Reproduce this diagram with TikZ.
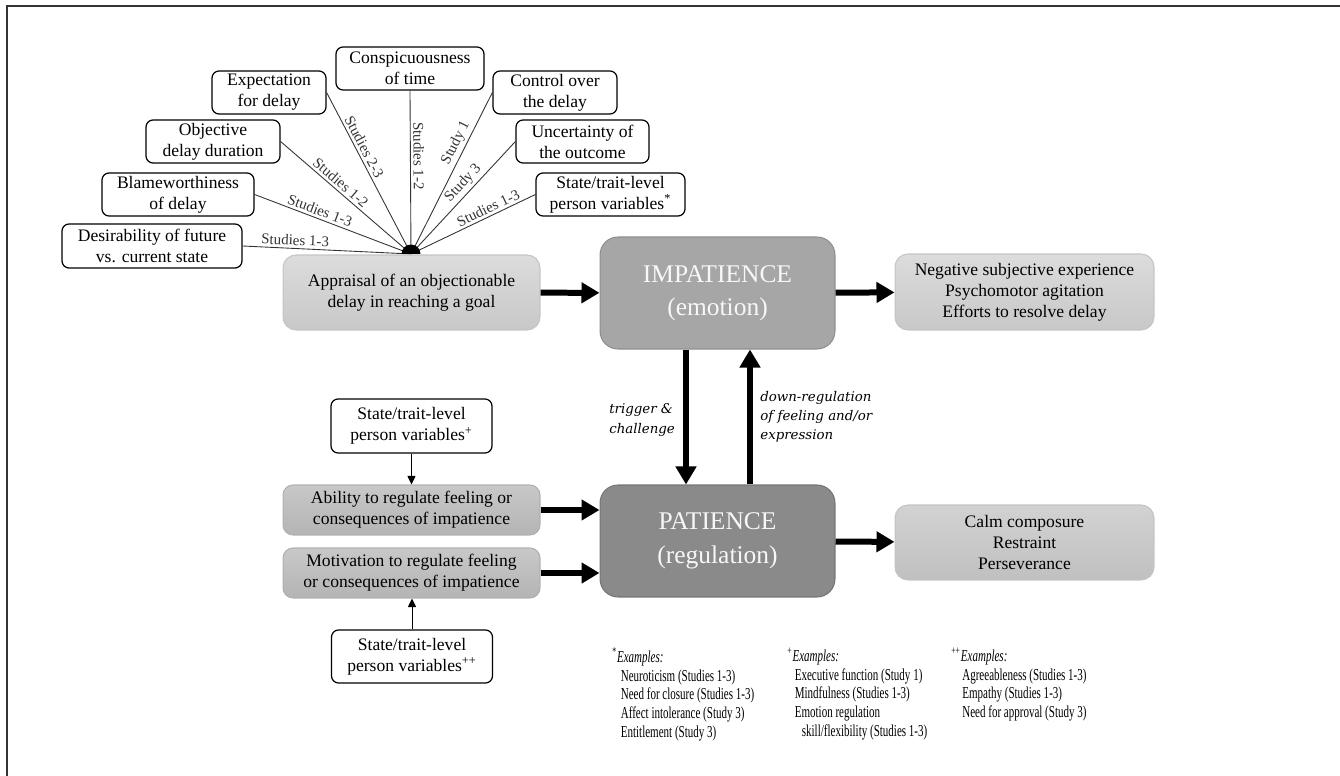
\documentclass[tikz,border=0pt]{standalone}
\usepackage{fontspec}
\setmainfont{Liberation Serif}
\newfontfamily\labelfont{DejaVu Serif}
\newfontfamily\notefont[FakeStretch=0.66]{Liberation Serif}
\usetikzlibrary{arrows.meta}
\definecolor{lighttop}{RGB}{220,220,220}
\definecolor{lightbot}{RGB}{200,200,200}
\definecolor{lightline}{RGB}{196,196,196}
\definecolor{calmtop}{RGB}{210,210,210}
\definecolor{calmbot}{RGB}{192,192,192}
\definecolor{midtop}{RGB}{200,200,200}
\definecolor{midbot}{RGB}{180,180,180}
\definecolor{midline}{RGB}{176,176,176}
\definecolor{impfill}{RGB}{166,166,166}
\definecolor{impline}{RGB}{142,142,142}
\definecolor{patfill}{RGB}{138,138,138}
\definecolor{patline}{RGB}{118,118,118}

\begin{document}
\begin{tikzpicture}[x=0.02cm,y=-0.02cm]
    \tikzstyle{factorbox}=[draw,line width=0.7pt,rounded corners=0.14cm,fill=white,align=center,inner sep=1pt,font=\fontsize{10}{12}\selectfont]
    \tikzstyle{lightbox}=[draw=lightline,line width=0.6pt,rounded corners=0.26cm,top color=lighttop,bottom color=lightbot,align=center,font=\fontsize{10}{12}\selectfont]
    \tikzstyle{midbox}=[lightbox,draw=midline,top color=midtop,bottom color=midbot,minimum width=5.14cm,minimum height=1cm,rounded corners=0.2cm]
    \tikzstyle{corebox}=[draw,line width=0.6pt,rounded corners=0.36cm,minimum width=4.7cm,minimum height=2.24cm,align=center,text=gray!6,font=\fontsize{14.5}{19}\selectfont]
    \tikzstyle{bigarrow}=[line width=0.12cm,-{Triangle[length=0.36cm,width=0.4cm]}]
    \tikzstyle{thinarrow}=[line width=0.5pt,-{Triangle[length=0.17cm,width=0.16cm]}]
    \tikzstyle{spoke}=[line width=0.5pt,black!80]
    \tikzstyle{study}=[sloped,above,inner sep=1.5pt,font=\fontsize{8.5}{10}\selectfont]
    \tikzstyle{cue}=[align=left,anchor=west,inner sep=0pt,font=\labelfont\itshape\fontsize{7.6}{10.9}\selectfont]
    \tikzstyle{notes}=[align=left,anchor=north west,inner sep=0pt,font=\notefont\fontsize{9.5}{10.6}\selectfont]
    \useasboundingbox (0,0) rectangle (1340,776);
    \draw[line width=0.04cm,black!80] (7,776) -- (7,6) -- (1340,6);
    \node[factorbox,minimum width=2.96cm,minimum height=0.86cm] (conspic) at (410,68.5) {Conspicuousness\\of time};
    \node[factorbox,minimum width=2.28cm,minimum height=0.86cm] (expect) at (269,92.5) {Expectation\\for delay};
    \node[factorbox,minimum width=2.68cm,minimum height=0.86cm] (objdur) at (213,141.5) {Objective\\delay duration};
    \node[factorbox,minimum width=3.04cm,minimum height=0.86cm] (blame) at (178,194.5) {Blameworthiness\\of delay};
    \node[factorbox,minimum width=3.6cm,minimum height=0.88cm] (desir) at (152,246) {Desirability of future\\vs. current state};
    \node[factorbox,minimum width=2.48cm,minimum height=0.86cm] (control) at (555,92.5) {Control over\\the delay};
    \node[factorbox,minimum width=2.66cm,minimum height=0.86cm] (uncert) at (582.5,141.5) {Uncertainty of\\the outcome};
    \node[factorbox,minimum width=2.98cm,minimum height=0.86cm] (stateA) at (610.5,194.5) {State/trait-level\\person variables\textsuperscript{*}};
    \coordinate (hub) at (411,254);
    \draw[spoke] (desir.east) -- node[study,pos=0.31] {Studies 1-3} (hub);
    \draw[spoke] (blame.east) -- node[study,pos=0.4] {Studies 1-3} (hub);
    \draw[spoke] (objdur.east) -- node[study,pos=0.42] {Studies 1-2} (hub);
    \draw[spoke] (expect.east) -- node[study,pos=0.36] {Studies 2-3} (hub);
    \draw[spoke] (conspic.south) -- node[study,pos=0.4] {Studies 1-2} (hub);
    \draw[spoke] (hub) -- node[study,pos=0.66] {Study 1} (control.west);
    \draw[spoke] (hub) -- node[study,pos=0.57] {Study 3} (uncert.west);
    \draw[spoke] (hub) -- node[study,pos=0.65] {Studies 1-3} (stateA.west);
    \fill (hub) ++(-0.19cm,0) arc[start angle=180,end angle=0,radius=0.19cm] -- cycle;
    \node[lightbox,minimum width=5.14cm,minimum height=1.5cm] (appr) at (411.5,292.5) {Appraisal of an objectionable\\delay in reaching a goal};
    \node[corebox,fill=impfill,draw=impline] (impat) at (717.5,293) {IMPATIENCE\\(emotion)};
    \node[corebox,fill=patfill,draw=patline] (pat) at (717.5,541) {PATIENCE\\(regulation)};
    \node[lightbox,minimum width=5.18cm,minimum height=1.52cm] (negexp) at (1024.5,292) {Negative subjective experience\\Psychomotor agitation\\Efforts to resolve delay};
    \node[lightbox,minimum width=5.18cm,minimum height=1.5cm,top color=calmtop,bottom color=calmbot] (calm) at (1024.5,542.5) {Calm composure\\Restraint\\Perseverance};
    \node[midbox] (abil) at (411.5,510) {Ability to regulate feeling or\\consequences of impatience};
    \node[midbox] (motiv) at (411.5,573) {Motivation to regulate feeling\\or consequences of impatience};
    \node[factorbox,minimum width=3.22cm,minimum height=1.08cm] (stateB) at (411.5,426) {State/trait-level\\person variables\textsuperscript{+}};
    \node[factorbox,minimum width=3.22cm,minimum height=1.06cm] (stateC) at (412,656.5) {State/trait-level\\person variables\textsuperscript{++}};
    \draw[bigarrow] (appr) -- (impat);
    \draw[bigarrow] (impat) -- (negexp);
    \draw[bigarrow] (pat) -- (calm);
    \draw[bigarrow] (abil.east) -- (abil.east -| pat.west);
    \draw[bigarrow] (motiv.east) -- (motiv.east -| pat.west);
    \draw[bigarrow] ([xshift=-0.63cm]impat.south) -- ([xshift=-0.63cm]pat.north);
    \draw[bigarrow] ([xshift=0.65cm]pat.north) -- ([xshift=0.65cm]impat.south);
    \draw[thinarrow] (stateB) -- (abil);
    \draw[thinarrow] (stateC.north) -- (stateC.north |- motiv.south);
    \node[cue] (trig) at (609,420) {trigger \&\\challenge};
    \node[cue] (downreg) at (760,417) {down-regulation\\of feeling and/or\\expression};
    \node[notes] (noteA) at (612,648) {\textsuperscript{*}\textit{Examples:}\\
      \hspace*{0.17cm}Neuroticism (Studies 1-3)\\
      \hspace*{0.17cm}Need for closure (Studies 1-3)\\
      \hspace*{0.17cm}Affect intolerance (Study 3)\\
      \hspace*{0.17cm}Entitlement (Study 3)};
    \node[notes] (noteB) at (787,648) {\textsuperscript{+}\textit{Examples:}\\
      \hspace*{0.15cm}Executive function (Study 1)\\
      \hspace*{0.15cm}Mindfulness (Studies 1-3)\\
      \hspace*{0.15cm}Emotion regulation\\
      \hspace*{0.29cm}skill/flexibility (Studies 1-3)};
    \node[notes] (noteC) at (951,648) {\textsuperscript{++}\textit{Examples:}\\
      \hspace*{0.22cm}Agreeableness (Studies 1-3)\\
      \hspace*{0.22cm}Empathy (Studies 1-3)\\
      \hspace*{0.22cm}Need for approval (Study 3)};
\end{tikzpicture}
\end{document}
